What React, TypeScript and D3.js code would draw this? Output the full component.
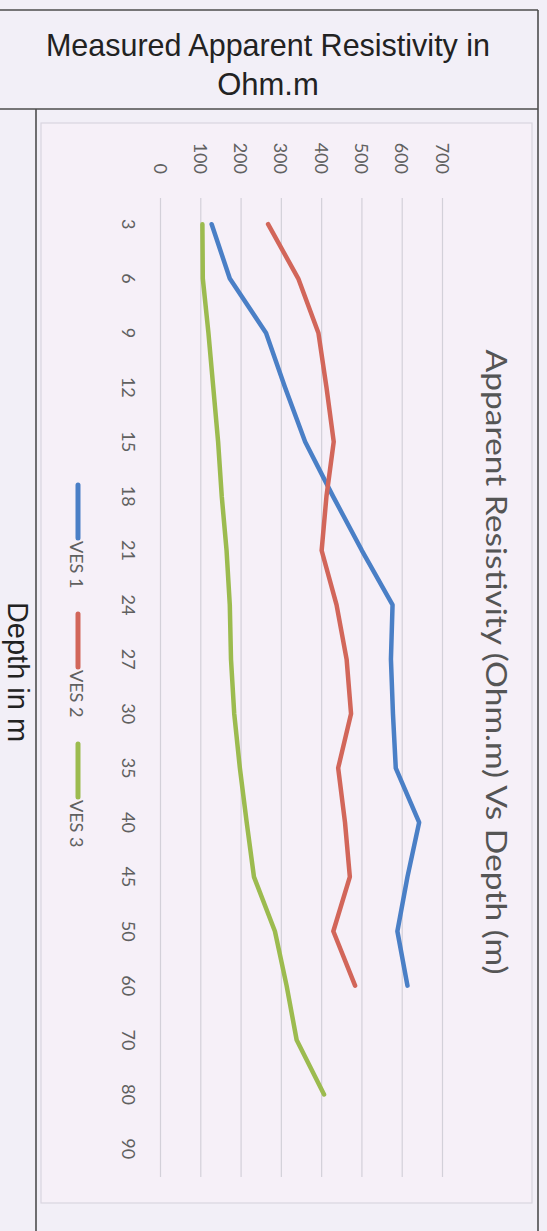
import React from "react";
import * as d3 from "d3";

const depths = ["3", "6", "9", "12", "15", "18", "21", "24", "27", "30", "35", "40", "45", "50", "60", "70", "80", "90"];
const ves1 = [127, 172, 262, 309, 359, 428, 500, 576, 572, 577, 584, 642, 613, 588, 613];
const ves2 = [267, 342, 392, 412, 430, 412, 400, 437, 462, 473, 441, 458, 470, 429, 483];
const ves3 = [104, 105, 119, 131, 143, 152, 164, 172, 175, 183, 197, 214, 232, 284, 313, 338, 406];
const seriesNames = ["VES 1", "VES 2", "VES 3"];
const seriesColors = ["#4a7fc6", "#d2665a", "#9cbb4f"];
const valueTicks = [0, 100, 200, 300, 400, 500, 600, 700];
const headerLines = ["Measured Apparent Resistivity in", "Ohm.m"];
const sideLabel = "Depth in m";
const chartTitle = "Apparent Resistivity (Ohm.m) Vs Depth (m)";

export default function App() {
  const W = 547;
  const H = 1231;
  const x = d3.scaleLinear().domain([0, 700]).range([160.5, 442.5]);
  const y = d3.scalePoint<string>().domain(depths).range([197, 1176]).padding(0.5);
  const all = [ves1, ves2, ves3];
  const line = d3
    .line<number>()
    .x((d) => x(d))
    .y((_, i) => y(depths[i]) as number);
  const font = "Lato, 'Open Sans', sans-serif";
  const textCol = "#606060";
  const legendStart = [485, 614, 744];

  return (
    <svg width={W} height={H} style={{ position: "absolute", left: 0, top: 0 }}>
      <rect x={0} y={0} width={W} height={H} fill="#f2eff7" />
      {/* chart area */}
      <rect x={41} y={123} width={491} height={1080} fill="#f6f0f8" stroke="#d9d5df" strokeWidth={1.2} />
      {/* table borders */}
      <g stroke="#4d4d4d" strokeWidth={1.6}>
        <line x1={0} y1={10} x2={538} y2={10} />
        <line x1={538} y1={10} x2={538} y2={H} />
        <line x1={0} y1={109} x2={538} y2={109} />
        <line x1={36} y1={109} x2={36} y2={H} />
      </g>
      {/* header */}
      {headerLines.map((t, i) => (
        <text
          key={t}
          x={268}
          y={56 + i * 39}
          textAnchor="middle"
          fontFamily="'Liberation Sans', Arial, sans-serif"
          fontSize={i === 0 ? 30.5 : 31}
          fill="#222"
        >
          {t}
        </text>
      ))}
      <text
        transform={`translate(18,672) rotate(90)`}
        textAnchor="middle"
        dominantBaseline="central"
        fontFamily="'Liberation Sans', Arial, sans-serif"
        fontSize={29}
        fill="#222"
      >
        {sideLabel}
      </text>
      {/* gridlines */}
      {valueTicks.map((v) => (
        <line key={v} x1={x(v)} x2={x(v)} y1={198} y2={1177} stroke="#d3d0d9" strokeWidth={1.2} />
      ))}
      {/* value tick labels */}
      {valueTicks.map((v) => (
        <text
          key={"t" + v}
          transform={`translate(${x(v)},174) rotate(90)`}
          textAnchor="end"
          dominantBaseline="central"
          fontFamily={font}
          fontSize={18}
          fill={textCol}
        >
          {v}
        </text>
      ))}
      {/* category labels */}
      {depths.map((d) => (
        <text
          key={"c" + d}
          transform={`translate(129,${y(d)}) rotate(90)`}
          textAnchor="middle"
          dominantBaseline="central"
          fontFamily={font}
          fontSize={18}
          fill={textCol}
        >
          {d}
        </text>
      ))}
      {/* series */}
      {all.map((s, i) => (
        <path
          key={seriesNames[i]}
          d={line(s) || ""}
          fill="none"
          stroke={seriesColors[i]}
          strokeWidth={4.5}
          strokeLinejoin="round"
          strokeLinecap="round"
        />
      ))}
      {/* legend */}
      {seriesNames.map((n, i) => (
        <g key={"l" + n}>
          <line
            x1={78}
            x2={78}
            y1={legendStart[i]}
            y2={legendStart[i] + 53}
            stroke={seriesColors[i]}
            strokeWidth={5}
            strokeLinecap="round"
          />
          <text
            transform={`translate(77,${legendStart[i] + 56}) rotate(90)`}
            dominantBaseline="central"
            fontFamily={font}
            fontSize={18}
            fill={textCol}
          >
            {n}
          </text>
        </g>
      ))}
      {/* chart title */}
      <text
        transform={`translate(497,662) rotate(90)`}
        textAnchor="middle"
        dominantBaseline="central"
        fontFamily={font}
        fontSize={28}
        textLength={625}
        lengthAdjust="spacingAndGlyphs"
        fill="#555"
      >
        {chartTitle}
      </text>
    </svg>
  );
}
